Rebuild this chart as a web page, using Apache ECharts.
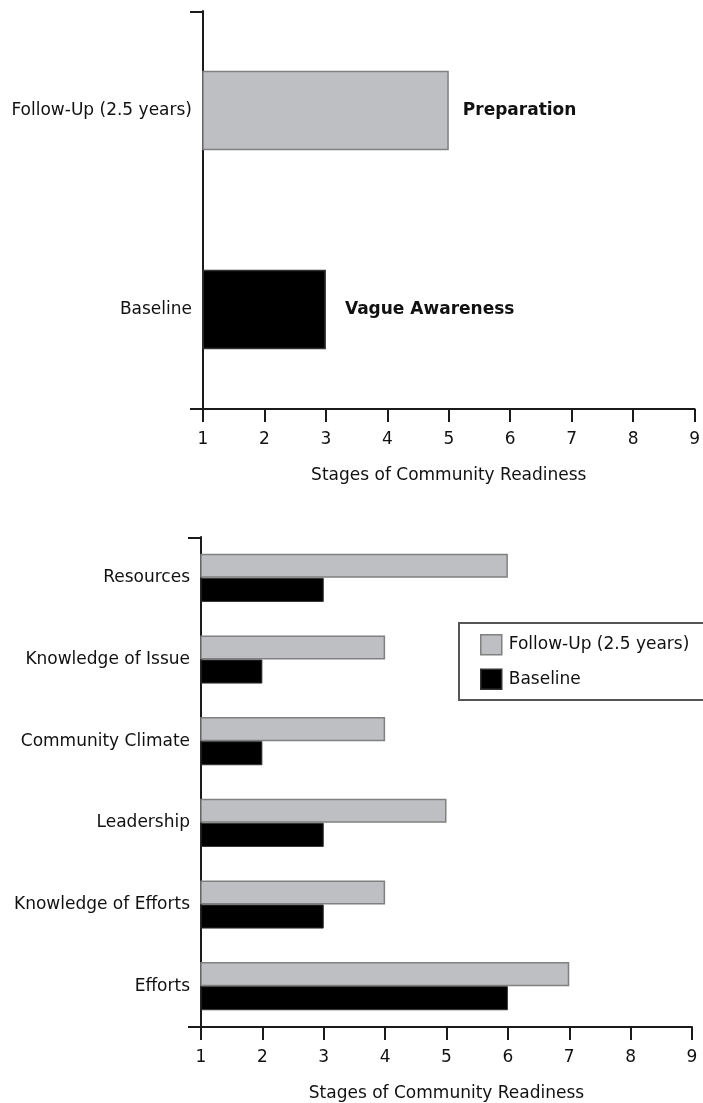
<!DOCTYPE html>
<html><head><meta charset="utf-8">
<script src="https://cdn.jsdelivr.net/npm/echarts@6/dist/echarts.min.js"></script>
<style>html,body{margin:0;padding:0;background:#fff}#c{width:703px;height:1103px}</style>
</head><body><div id="c"></div>
<script>
// ---- data ----
const stageTicks = [1, 2, 3, 4, 5, 6, 7, 8, 9];
const xAxisName = 'Stages of Community Readiness';
const overallCategories = ['Baseline', 'Follow-Up (2.5 years)'];
const overallValues = [3, 5];
const overallStageNames = ['Vague Awareness', 'Preparation'];
const dimensionCategories = ['Efforts', 'Knowledge of Efforts', 'Leadership', 'Community Climate', 'Knowledge of Issue', 'Resources'];
const baselineValues = [6, 3, 3, 2, 2, 3];
const followUpValues = [7, 4, 5, 4, 4, 6];
const followUpName = 'Follow-Up (2.5 years)';
const baselineName = 'Baseline';

// ---- style ----
const FONT = 'DejaVu Sans';
const FS = 17;
const TXT = '#111';
const AX = '#1a1a1a';
const GRAY = '#bebfc3';
const GRAY_B = '#808080';
const BLACK = '#000';

function xAxisFor(gi) {
  return {
    type: 'value', gridIndex: gi,
    min: stageTicks[0], max: stageTicks[stageTicks.length - 1], interval: 1,
    name: xAxisName, nameLocation: 'middle', nameGap: 58,
    nameTextStyle: { fontFamily: FONT, fontSize: FS, color: TXT },
    axisLine: { show: true, lineStyle: { color: AX, width: 2 } },
    axisTick: { show: true, length: 13, lineStyle: { color: AX, width: 2 } },
    axisLabel: { fontFamily: FONT, fontSize: FS, color: TXT, margin: 22,
      formatter: v => stageTicks.includes(v) ? String(v) : '' },
    splitLine: { show: false }
  };
}
function yAxisFor(gi, cats) {
  return {
    type: 'category', gridIndex: gi, data: cats,
    axisLine: { show: true, lineStyle: { color: AX, width: 2 } },
    axisTick: { show: false },
    axisLabel: { interval: 0, fontFamily: FONT, fontSize: FS, color: TXT, margin: 11 },
    splitLine: { show: false }
  };
}

const itemColors = { [baselineName]: BLACK, [followUpName]: GRAY };
const itemBorders = { [baselineName]: '#333', [followUpName]: GRAY_B };
const labelDistance = { [baselineName]: 19, [followUpName]: 14 };

const overallData = overallValues.map((v, i) => ({
  value: v,
  itemStyle: { color: itemColors[overallCategories[i]], borderColor: itemBorders[overallCategories[i]], borderWidth: 1.5 },
  label: { formatter: overallStageNames[i], distance: labelDistance[overallCategories[i]] }
}));

const option = {
  animation: false,
  backgroundColor: '#fff',
  textStyle: { fontFamily: FONT },
  grid: [
    { left: 203, top: 11, width: 492, height: 398 },
    { left: 201, top: 537, width: 491, height: 490 }
  ],
  xAxis: [xAxisFor(0), xAxisFor(1)],
  yAxis: [yAxisFor(0, overallCategories), yAxisFor(1, dimensionCategories)],
  legend: {
    show: true, orient: 'vertical', left: 459, top: 623,
    data: [followUpName, baselineName],
    itemWidth: 21, itemHeight: 20, itemGap: 13,
    padding: [11, 20, 10, 21],
    borderColor: '#555', borderWidth: 2, borderRadius: 0,
    textStyle: { fontFamily: FONT, fontSize: FS, color: TXT, padding: [0, 0, 0, 2] },
    itemStyle: { borderWidth: 1.5 },
    icon: 'rect'
  },
  series: [
    {
      type: 'bar', name: 'Overall', xAxisIndex: 0, yAxisIndex: 0,
      data: overallData, barCategoryGap: '60%',
      label: { show: true, position: 'right', fontFamily: FONT, fontSize: FS, fontWeight: 'bold', color: '#111' }
    },
    {
      type: 'bar', name: followUpName, xAxisIndex: 1, yAxisIndex: 1,
      data: followUpValues, barGap: '0%', barCategoryGap: '41%',
      itemStyle: { color: GRAY, borderColor: GRAY_B, borderWidth: 1.5 }
    },
    {
      type: 'bar', name: baselineName, xAxisIndex: 1, yAxisIndex: 1,
      data: baselineValues, barGap: '0%', barCategoryGap: '41%',
      itemStyle: { color: BLACK, borderColor: '#333', borderWidth: 1 }
    }
  ]
};
const chart = echarts.init(document.getElementById('c'), null, { renderer: 'canvas' });
chart.setOption(option);

// axis-end tick at the top of each frame and left extension of the x axis line
const extras = [];
[0, 1].forEach(gi => {
  const rect = chart.getModel().getComponent('grid', gi).coordinateSystem.getRect();
  const ls = { stroke: AX, lineWidth: 2 };
  extras.push({ type: 'line', shape: { x1: rect.x - 13, y1: rect.y + 1, x2: rect.x + 1, y2: rect.y + 1 }, style: ls, z: 10 });
  extras.push({ type: 'line', shape: { x1: rect.x - 13, y1: rect.y + rect.height, x2: rect.x, y2: rect.y + rect.height }, style: ls, z: 10 });
});
chart.setOption({ graphic: extras });
</script></body></html>
